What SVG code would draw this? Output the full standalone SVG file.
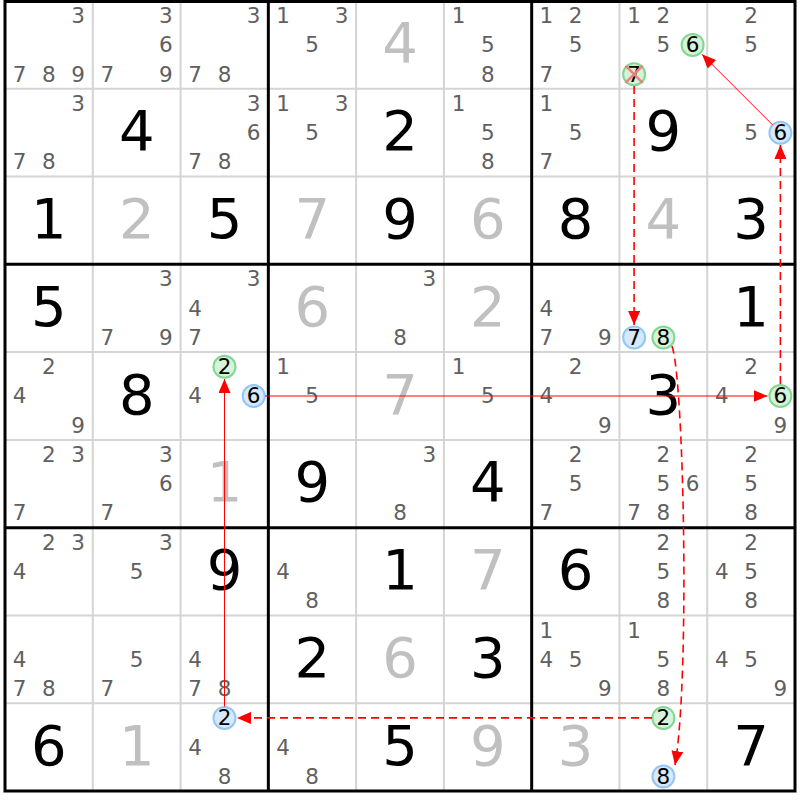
<svg xmlns="http://www.w3.org/2000/svg" width="800" height="800" viewBox="0 0 800 800">
<style>
text{font-family:"DejaVu Sans",Verdana,sans-serif;text-anchor:middle}
.c{font-size:21.5px;fill:#606060}
.b{font-size:56px;fill:#000}
.s{font-size:56px;fill:#c0c0c0}
.k{font-size:21.5px;fill:#000}
.cg{fill:#d6f2d8;stroke:#80d890;stroke-width:2}
.cb{fill:#d6e8fb;stroke:#94c6f4;stroke-width:2}
.thin{stroke:#d4d4d4;stroke-width:2}
.thick{stroke:#000;stroke-width:3}
.sol{stroke:#ff0000;stroke-width:1;fill:none}
.dash{stroke:#ff0000;stroke-width:1.6;fill:none;stroke-dasharray:8,5}
</style>
<defs>
<marker id="arr" markerUnits="userSpaceOnUse" markerWidth="14" markerHeight="12" viewBox="0 0 14 12" refX="14" refY="6" orient="auto">
<path d="M0,0 L14,6 L0,12 z" fill="#ff0000"/>
</marker>
</defs>
<rect width="800" height="800" fill="#fff"/>
<g id="grid">
<g class="thin">
<line x1="92.78" y1="1" x2="92.78" y2="791"/><line x1="180.56" y1="1" x2="180.56" y2="791"/>
<line x1="356.12" y1="1" x2="356.12" y2="791"/><line x1="443.9" y1="1" x2="443.9" y2="791"/>
<line x1="619.46" y1="1" x2="619.46" y2="791"/><line x1="707.24" y1="1" x2="707.24" y2="791"/>
<line x1="5" y1="88.78" x2="795" y2="88.78"/><line x1="5" y1="176.56" x2="795" y2="176.56"/>
<line x1="5" y1="352.12" x2="795" y2="352.12"/><line x1="5" y1="439.9" x2="795" y2="439.9"/>
<line x1="5" y1="615.46" x2="795" y2="615.46"/><line x1="5" y1="703.24" x2="795" y2="703.24"/>
</g>
<g class="thick">
<line x1="268.34" y1="1" x2="268.34" y2="791"/><line x1="531.68" y1="1" x2="531.68" y2="791"/>
<line x1="5" y1="264.34" x2="795" y2="264.34"/><line x1="5" y1="527.68" x2="795" y2="527.68"/>
<rect x="5" y="1.5" width="790" height="789.5" fill="none"/>
</g>
</g>

<g id="r0c0"><text class="c" x="78.2" y="23">3</text><text class="c" x="19.6" y="81.6">7</text><text class="c" x="48.9" y="81.6">8</text><text class="c" x="78.2" y="81.6">9</text></g>
<g id="r0c1"><text class="c" x="165.9" y="23">3</text><text class="c" x="165.9" y="52.3">6</text><text class="c" x="107.4" y="81.6">7</text><text class="c" x="165.9" y="81.6">9</text></g>
<g id="r0c2"><text class="c" x="253.7" y="23">3</text><text class="c" x="195.2" y="81.6">7</text><text class="c" x="224.5" y="81.6">8</text></g>
<g id="r0c3"><text class="c" x="283" y="23">1</text><text class="c" x="341.5" y="23">3</text><text class="c" x="312.2" y="52.3">5</text></g>
<g id="r0c4"><text class="s" x="400" y="62.4">4</text></g>
<g id="r0c5"><text class="c" x="458.5" y="23">1</text><text class="c" x="487.8" y="52.3">5</text><text class="c" x="487.8" y="81.6">8</text></g>
<g id="r0c6"><text class="c" x="546.3" y="23">1</text><text class="c" x="575.6" y="23">2</text><text class="c" x="575.6" y="52.3">5</text><text class="c" x="546.3" y="81.6">7</text></g>
<g id="r0c7"><text class="c" x="634.1" y="23">1</text><text class="c" x="663.4" y="23">2</text><text class="c" x="663.4" y="52.3">5</text>
<circle class="cg" cx="692.6" cy="44.9" r="11"/><text class="k" x="692.6" y="52.3">6</text>
<circle class="cg" cx="634.1" cy="74.2" r="11"/><text class="k" x="634.1" y="81.6">7</text>
<path d="M625.5,65.6 L642.7,82.8 M642.7,65.6 L625.5,82.8" stroke="#f08080" stroke-width="2.5"/></g>
<g id="r0c8"><text class="c" x="751.1" y="23">2</text><text class="c" x="751.1" y="52.3">5</text></g>

<g id="r1c0"><text class="c" x="78.2" y="110.8">3</text><text class="c" x="19.6" y="169.4">7</text><text class="c" x="48.9" y="169.4">8</text></g>
<g id="r1c1"><text class="b" x="136.7" y="150.2">4</text></g>
<g id="r1c2"><text class="c" x="253.7" y="110.8">3</text><text class="c" x="253.7" y="140.1">6</text><text class="c" x="195.2" y="169.4">7</text><text class="c" x="224.5" y="169.4">8</text></g>
<g id="r1c3"><text class="c" x="283" y="110.8">1</text><text class="c" x="341.5" y="110.8">3</text><text class="c" x="312.2" y="140.1">5</text></g>
<g id="r1c4"><text class="b" x="400" y="150.2">2</text></g>
<g id="r1c5"><text class="c" x="458.5" y="110.8">1</text><text class="c" x="487.8" y="140.1">5</text><text class="c" x="487.8" y="169.4">8</text></g>
<g id="r1c6"><text class="c" x="546.3" y="110.8">1</text><text class="c" x="575.6" y="140.1">5</text><text class="c" x="546.3" y="169.4">7</text></g>
<g id="r1c7"><text class="b" x="663.4" y="150.2">9</text></g>
<g id="r1c8"><text class="c" x="751.1" y="140.1">5</text><circle class="cb" cx="780.4" cy="132.7" r="11"/><text class="k" x="780.4" y="140.1">6</text></g>

<g id="r2c0"><text class="b" x="48.9" y="238">1</text></g>
<g id="r2c1"><text class="s" x="136.7" y="238">2</text></g>
<g id="r2c2"><text class="b" x="224.5" y="238">5</text></g>
<g id="r2c3"><text class="s" x="312.2" y="238">7</text></g>
<g id="r2c4"><text class="b" x="400" y="238">9</text></g>
<g id="r2c5"><text class="s" x="487.8" y="238">6</text></g>
<g id="r2c6"><text class="b" x="575.6" y="238">8</text></g>
<g id="r2c7"><text class="s" x="663.4" y="238">4</text></g>
<g id="r2c8"><text class="b" x="751.1" y="238">3</text></g>

<g id="r3c0"><text class="b" x="48.9" y="325.7">5</text></g>
<g id="r3c1"><text class="c" x="165.9" y="286.4">3</text><text class="c" x="107.4" y="344.9">7</text><text class="c" x="165.9" y="344.9">9</text></g>
<g id="r3c2"><text class="c" x="253.7" y="286.4">3</text><text class="c" x="195.2" y="315.6">4</text><text class="c" x="195.2" y="344.9">7</text></g>
<g id="r3c3"><text class="s" x="312.2" y="325.7">6</text></g>
<g id="r3c4"><text class="c" x="429.3" y="286.4">3</text><text class="c" x="400" y="344.9">8</text></g>
<g id="r3c5"><text class="s" x="487.8" y="325.7">2</text></g>
<g id="r3c6"><text class="c" x="546.3" y="315.6">4</text><text class="c" x="546.3" y="344.9">7</text><text class="c" x="604.8" y="344.9">9</text></g>
<g id="r3c7"><circle class="cb" cx="634.1" cy="337.5" r="11"/><text class="k" x="634.1" y="344.9">7</text><circle class="cg" cx="663.4" cy="337.5" r="11"/><text class="k" x="663.4" y="344.9">8</text></g>
<g id="r3c8"><text class="b" x="751.1" y="325.7">1</text></g>

<g id="r4c0"><text class="c" x="48.9" y="374.1">2</text><text class="c" x="19.6" y="403.4">4</text><text class="c" x="78.2" y="432.7">9</text></g>
<g id="r4c1"><text class="b" x="136.7" y="413.5">8</text></g>
<g id="r4c2"><circle class="cg" cx="224.5" cy="366.7" r="11"/><text class="k" x="224.5" y="374.1">2</text><text class="c" x="195.2" y="403.4">4</text><circle class="cb" cx="253.7" cy="396" r="11"/><text class="k" x="253.7" y="403.4">6</text></g>
<g id="r4c3"><text class="c" x="283" y="374.1">1</text><text class="c" x="312.2" y="403.4">5</text></g>
<g id="r4c4"><text class="s" x="400" y="413.5">7</text></g>
<g id="r4c5"><text class="c" x="458.5" y="374.1">1</text><text class="c" x="487.8" y="403.4">5</text></g>
<g id="r4c6"><text class="c" x="575.6" y="374.1">2</text><text class="c" x="546.3" y="403.4">4</text><text class="c" x="604.8" y="432.7">9</text></g>
<g id="r4c7"><text class="b" x="663.4" y="413.5">3</text></g>
<g id="r4c8"><text class="c" x="751.1" y="374.1">2</text><text class="c" x="721.9" y="403.4">4</text><circle class="cg" cx="780.4" cy="396" r="11"/><text class="k" x="780.4" y="403.4">6</text><text class="c" x="780.4" y="432.7">9</text></g>

<g id="r5c0"><text class="c" x="48.9" y="461.9">2</text><text class="c" x="78.2" y="461.9">3</text><text class="c" x="19.6" y="520.4">7</text></g>
<g id="r5c1"><text class="c" x="165.9" y="461.9">3</text><text class="c" x="165.9" y="491.2">6</text><text class="c" x="107.4" y="520.4">7</text></g>
<g id="r5c2"><text class="s" x="224.5" y="501.3">1</text></g>
<g id="r5c3"><text class="b" x="312.2" y="501.3">9</text></g>
<g id="r5c4"><text class="c" x="429.3" y="461.9">3</text><text class="c" x="400" y="520.4">8</text></g>
<g id="r5c5"><text class="b" x="487.8" y="501.3">4</text></g>
<g id="r5c6"><text class="c" x="575.6" y="461.9">2</text><text class="c" x="575.6" y="491.2">5</text><text class="c" x="546.3" y="520.4">7</text></g>
<g id="r5c7"><text class="c" x="663.4" y="461.9">2</text><text class="c" x="663.4" y="491.2">5</text><text class="c" x="692.6" y="491.2">6</text><text class="c" x="634.1" y="520.4">7</text><text class="c" x="663.4" y="520.4">8</text></g>
<g id="r5c8"><text class="c" x="751.1" y="461.9">2</text><text class="c" x="751.1" y="491.2">5</text><text class="c" x="751.1" y="520.4">8</text></g>

<g id="r6c0"><text class="c" x="48.9" y="549.7">2</text><text class="c" x="78.2" y="549.7">3</text><text class="c" x="19.6" y="579">4</text></g>
<g id="r6c1"><text class="c" x="165.9" y="549.7">3</text><text class="c" x="136.7" y="579">5</text></g>
<g id="r6c2"><text class="b" x="224.5" y="589.1">9</text></g>
<g id="r6c3"><text class="c" x="283" y="579">4</text><text class="c" x="312.2" y="608.2">8</text></g>
<g id="r6c4"><text class="b" x="400" y="589.1">1</text></g>
<g id="r6c5"><text class="s" x="487.8" y="589.1">7</text></g>
<g id="r6c6"><text class="b" x="575.6" y="589.1">6</text></g>
<g id="r6c7"><text class="c" x="663.4" y="549.7">2</text><text class="c" x="663.4" y="579">5</text><text class="c" x="663.4" y="608.2">8</text></g>
<g id="r6c8"><text class="c" x="751.1" y="549.7">2</text><text class="c" x="721.9" y="579">4</text><text class="c" x="751.1" y="579">5</text><text class="c" x="751.1" y="608.2">8</text></g>

<g id="r7c0"><text class="c" x="19.6" y="666.8">4</text><text class="c" x="19.6" y="696">7</text><text class="c" x="48.9" y="696">8</text></g>
<g id="r7c1"><text class="c" x="136.7" y="666.8">5</text><text class="c" x="107.4" y="696">7</text></g>
<g id="r7c2"><text class="c" x="195.2" y="666.8">4</text><text class="c" x="195.2" y="696">7</text><text class="c" x="224.5" y="696">8</text></g>
<g id="r7c3"><text class="b" x="312.2" y="676.9">2</text></g>
<g id="r7c4"><text class="s" x="400" y="676.9">6</text></g>
<g id="r7c5"><text class="b" x="487.8" y="676.9">3</text></g>
<g id="r7c6"><text class="c" x="546.3" y="637.5">1</text><text class="c" x="546.3" y="666.8">4</text><text class="c" x="575.6" y="666.8">5</text><text class="c" x="604.8" y="696">9</text></g>
<g id="r7c7"><text class="c" x="634.1" y="637.5">1</text><text class="c" x="663.4" y="666.8">5</text><text class="c" x="663.4" y="696">8</text></g>
<g id="r7c8"><text class="c" x="721.9" y="666.8">4</text><text class="c" x="751.1" y="666.8">5</text><text class="c" x="780.4" y="696">9</text></g>

<g id="r8c0"><text class="b" x="48.9" y="764.6">6</text></g>
<g id="r8c1"><text class="s" x="136.7" y="764.6">1</text></g>
<g id="r8c2"><circle class="cb" cx="224.5" cy="717.9" r="11"/><text class="k" x="224.5" y="725.3">2</text><text class="c" x="195.2" y="754.5">4</text><text class="c" x="224.5" y="783.8">8</text></g>
<g id="r8c3"><text class="c" x="283" y="754.5">4</text><text class="c" x="312.2" y="783.8">8</text></g>
<g id="r8c4"><text class="b" x="400" y="764.6">5</text></g>
<g id="r8c5"><text class="s" x="487.8" y="764.6">9</text></g>
<g id="r8c6"><text class="s" x="575.6" y="764.6">3</text></g>
<g id="r8c7"><circle class="cg" cx="663.4" cy="717.9" r="11"/><text class="k" x="663.4" y="725.3">2</text><circle class="cb" cx="663.4" cy="776.4" r="11"/><text class="k" x="663.4" y="783.8">8</text></g>
<g id="r8c8"><text class="b" x="751.1" y="764.6">7</text></g>

<g id="connectors">
<line class="dash" x1="634.1" y1="86" x2="634.1" y2="325" marker-end="url(#arr)"/>
<line class="sol" x1="772.6" y1="124.9" x2="702" y2="54.3" marker-end="url(#arr)"/>
<line class="dash" x1="780.4" y1="384" x2="780.4" y2="145" marker-end="url(#arr)"/>
<line class="sol" x1="265" y1="396" x2="767.5" y2="396" marker-end="url(#arr)"/>
<line class="sol" x1="224.5" y1="706.5" x2="224.5" y2="379" marker-end="url(#arr)"/>
<line class="dash" x1="652" y1="717.9" x2="237" y2="717.9" marker-end="url(#arr)"/>
<path class="dash" d="M672,346 C684,380 690,680 675,765" marker-end="url(#arr)"/>
</g>
</svg>
